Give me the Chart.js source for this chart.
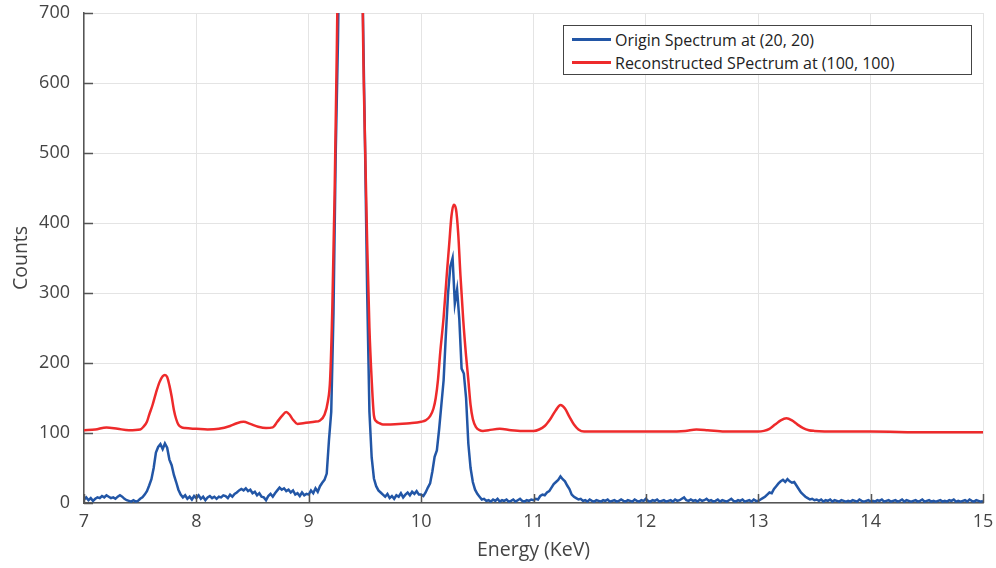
<!DOCTYPE html>
<html>
<head>
<meta charset="utf-8">
<script src="https://cdn.jsdelivr.net/npm/chart.js@4.4.1/dist/chart.umd.min.js"></script>
<style>
  html, body { margin: 0; padding: 0; background: #fff; }
  #wrap { position: relative; width: 996px; height: 568px; }
  #legend {
    position: absolute; left: 563px; top: 25px; width: 409px; height: 50px;
    box-sizing: border-box; border: 1px solid #444; background: #fff;
    font-family: 'Open Sans', sans-serif; font-size: 16px; color: #222;
    padding-top: 2px;
  }
  .row { display: flex; align-items: center; height: 23px; }
  .swatch { width: 39px; height: 3px; margin-left: 8px; margin-right: 4px; }
</style>
</head>
<body>
<div id="wrap">
  <canvas id="chart" width="996" height="568"></canvas>
  <div id="legend"></div>
</div>
<script>
// blue: measured spectrum, one value per 0.02 keV channel starting at 7 keV
const originStart = 7;
const originStep = 0.02;
const originCounts = [
  5, 8, 4, 7, 3, 6, 8, 7, 10, 8,
  11, 9, 7, 8, 6, 9, 11, 9, 6, 4,
  3, 2, 4, 2, 3, 6, 8, 12, 17, 25,
  34, 50, 72, 80, 84, 77, 85, 79, 62, 54,
  40, 30, 19, 12, 8, 11, 6, 9, 5, 10,
  7, 11, 6, 9, 4, 8, 10, 7, 9, 6,
  9, 8, 11, 10, 7, 12, 9, 13, 15, 18,
  20, 18, 21, 17, 19, 14, 16, 11, 14, 9,
  8, 4, 10, 13, 9, 14, 18, 22, 19, 21,
  17, 19, 15, 18, 12, 14, 10, 15, 11, 13,
  12, 18, 14, 21, 16, 24, 29, 33, 42, 90,
  130, 270, 500, 660, 900, 1300, 1700, 2000, 2100, 2050,
  1900, 1600, 1250, 950, 720, 520, 300, 130, 65, 35,
  24, 18, 15, 12, 9, 13, 7, 10, 6, 11,
  9, 14, 8, 12, 15, 11, 16, 13, 17, 12,
  12, 10, 15, 22, 28, 45, 66, 75, 105, 140,
  175, 240, 300, 338, 350, 285, 305, 262, 192, 185,
  150, 85, 50, 30, 19, 13, 9, 5, 6, 3,
  4, 2, 5, 3, 6, 2, 4, 3, 5, 2,
  3, 5, 2, 4, 6, 3, 2, 4, 3, 5,
  4, 6, 5, 10, 12, 11, 15, 17, 22, 27,
  30, 33, 38, 34, 31, 25, 20, 12, 9, 7,
  5, 6, 3, 4, 2, 5, 3, 2, 4, 3,
  2, 4, 3, 5, 2, 3, 4, 2, 3, 5,
  3, 2, 4, 3, 2, 5, 3, 2, 4, 3,
  6, 3, 2, 4, 3, 5, 2, 3, 4, 2,
  3, 4, 2, 5, 3, 4, 6, 8, 4, 3,
  5, 3, 4, 2, 5, 3, 4, 6, 3, 4,
  2, 3, 5, 2, 4, 3, 2, 4, 6, 3,
  2, 4, 3, 5, 2, 3, 4, 2, 5, 3,
  3, 5, 7, 9, 12, 15, 14, 20, 24, 28,
  31, 33, 30, 34, 31, 29, 30, 25, 20, 15,
  12, 9, 7, 5, 6, 4, 5, 3, 5, 2,
  4, 3, 5, 2, 4, 3, 2, 4, 3, 2,
  3, 2, 4, 3, 2, 5, 3, 2, 3, 4,
  2, 3, 2, 4, 3, 5, 2, 3, 4, 2,
  3, 4, 2, 3, 5, 2, 4, 3, 2, 3,
  4, 2, 3, 5, 2, 3, 4, 2, 3, 2,
  3, 4, 2, 3, 2, 4, 3, 5, 2, 3,
  2, 3, 4, 2, 5, 3, 2, 4, 3, 2,
  3
];

// red: reconstructed spectrum (smooth)
const reconEnergy = [
  7.00, 7.10, 7.20, 7.30, 7.40, 7.50, 7.53, 7.56, 7.58, 7.61,
  7.64, 7.67, 7.70, 7.72, 7.74, 7.76, 7.78, 7.80, 7.82, 7.84,
  7.87, 7.90, 8.00, 8.10, 8.20, 8.30, 8.36, 8.42, 8.48, 8.55,
  8.62, 8.68, 8.72, 8.76, 8.80, 8.83, 8.86, 8.90, 8.95, 9.00,
  9.05, 9.10, 9.14, 9.17, 9.19, 9.21, 9.23, 9.25, 9.27, 9.30,
  9.35, 9.40, 9.45, 9.48, 9.50, 9.52, 9.54, 9.56, 9.58, 9.60,
  9.63, 9.66, 9.70, 9.80, 9.90, 10.00, 10.04, 10.08, 10.11, 10.13,
  10.15, 10.17, 10.20, 10.23, 10.25, 10.27, 10.29, 10.31, 10.33, 10.35,
  10.375, 10.40, 10.42, 10.44, 10.46, 10.49, 10.52, 10.55, 10.60, 10.70,
  10.80, 10.90, 11.00, 11.05, 11.10, 11.15, 11.20, 11.24, 11.28, 11.32,
  11.36, 11.40, 11.45, 11.60, 11.80, 12.00, 12.20, 12.35, 12.45, 12.55,
  12.70, 12.90, 13.00, 13.05, 13.10, 13.15, 13.20, 13.25, 13.30, 13.35,
  13.40, 13.45, 13.50, 13.70, 14.00, 14.50, 15.00
];
const reconCounts = [
  104, 105, 108, 106, 104, 105, 109, 116, 126, 140,
  157, 172, 181, 183, 180, 168, 152, 133, 120, 112,
  108, 107, 106, 105, 106, 110, 114, 116, 113, 109,
  107, 108, 116, 124, 130, 126, 119, 113, 114, 115,
  116, 118, 126, 145, 176, 280, 440, 650, 900, 1400,
  1900, 2000, 1500, 720, 520, 370, 250, 176, 125, 117,
  114, 112, 112, 113, 114, 116, 118, 124, 135, 150,
  176, 215, 265, 330, 370, 410, 426, 420, 385, 325,
  261, 210, 176, 140, 120, 108, 104, 103, 104, 106,
  104, 103, 103, 105, 110, 120, 133, 140, 135, 123,
  112, 105, 102, 102, 102, 102, 102, 103, 105, 104,
  102, 102, 102, 103, 106, 112, 118, 121, 118, 112,
  107, 104, 103, 102, 102, 101, 101
];

const yTicks = [0, 100, 200, 300, 400, 500, 600, 700];
const xTicks = [7, 8, 9, 10, 11, 12, 13, 14, 15];

const originLabel = 'Origin Spectrum at (20, 20)';
const reconLabel = 'Reconstructed SPectrum at (100, 100)';
const blue = '#2256a6';
const red = '#ee2a2b';

const originPoints = originCounts.map((c, i) => ({ x: originStart + i * originStep, y: c }));
const reconPoints = reconEnergy.map((e, i) => ({ x: e, y: reconCounts[i] }));

// small tick marks pointing into the plot
const innerTicks = {
  id: 'innerTicks',
  afterDatasetsDraw(chart) {
    const { ctx, chartArea, scales } = chart;
    ctx.save();
    ctx.strokeStyle = '#555';
    ctx.lineWidth = 1.5;
    ctx.beginPath();
    xTicks.forEach(v => {
      const px = Math.round(scales.x.getPixelForValue(v)) + 0.5;
      ctx.moveTo(px, chartArea.bottom);
      ctx.lineTo(px, chartArea.bottom - 9);
    });
    yTicks.forEach(v => {
      const py = Math.round(scales.y.getPixelForValue(v)) + 0.5;
      ctx.moveTo(chartArea.left, py);
      ctx.lineTo(chartArea.left + 9, py);
    });
    ctx.stroke();
    ctx.restore();
  }
};

const font = { family: "'Open Sans', sans-serif", size: 18 };
const titleFont = { family: "'Open Sans', sans-serif", size: 19.5 };

new Chart(document.getElementById('chart'), {
  type: 'line',
  data: {
    datasets: [
      {
        label: originLabel,
        data: originPoints,
        borderColor: blue,
        borderWidth: 2.5,
        pointRadius: 0,
        tension: 0,
        order: 1
      },
      {
        label: reconLabel,
        data: reconPoints,
        borderColor: red,
        borderWidth: 2.5,
        pointRadius: 0,
        cubicInterpolationMode: 'monotone',
        order: 0
      }
    ]
  },
  options: {
    responsive: false,
    animation: false,
    layout: { padding: { top: 13, right: 13, left: 0, bottom: 0 } },
    plugins: {
      legend: { display: false },
      tooltip: { enabled: false }
    },
    scales: {
      x: {
        type: 'linear',
        min: 7,
        max: 15,
        afterBuildTicks: s => { s.ticks = xTicks.map(v => ({ value: v })); },
        afterFit: s => {
          s.height = 65;
          s.paddingLeft = 0;
          s.paddingRight = 0;
        },
        grid: { color: '#e4e4e4', lineWidth: 1, drawTicks: false },
        border: { color: '#555', width: 1.5 },
        ticks: { font, color: '#444', padding: 8 },
        title: {
          display: true,
          text: 'Energy (KeV)',
          font: titleFont,
          color: '#444',
          padding: { top: 0, bottom: 6 }
        }
      },
      y: {
        min: 0,
        max: 700,
        afterBuildTicks: s => { s.ticks = yTicks.map(v => ({ value: v })); },
        afterFit: s => {
          s.width = 84;
          s.paddingTop = 0;
          s.paddingBottom = 0;
        },
        grid: { color: '#e4e4e4', lineWidth: 1, drawTicks: false },
        border: { color: '#555', width: 1.5 },
        ticks: { font, color: '#444', padding: 14 },
        title: {
          display: true,
          text: 'Counts',
          font: titleFont,
          color: '#444',
          padding: { top: 10, bottom: 0 }
        }
      }
    }
  },
  plugins: [innerTicks]
});

// legend box in the top-right corner
const legend = document.getElementById('legend');
[[originLabel, blue], [reconLabel, red]].forEach(([text, color]) => {
  const row = document.createElement('div');
  row.className = 'row';
  const sw = document.createElement('span');
  sw.className = 'swatch';
  sw.style.background = color;
  const label = document.createElement('span');
  label.textContent = text;
  row.appendChild(sw);
  row.appendChild(label);
  legend.appendChild(row);
});
</script>
</body>
</html>
